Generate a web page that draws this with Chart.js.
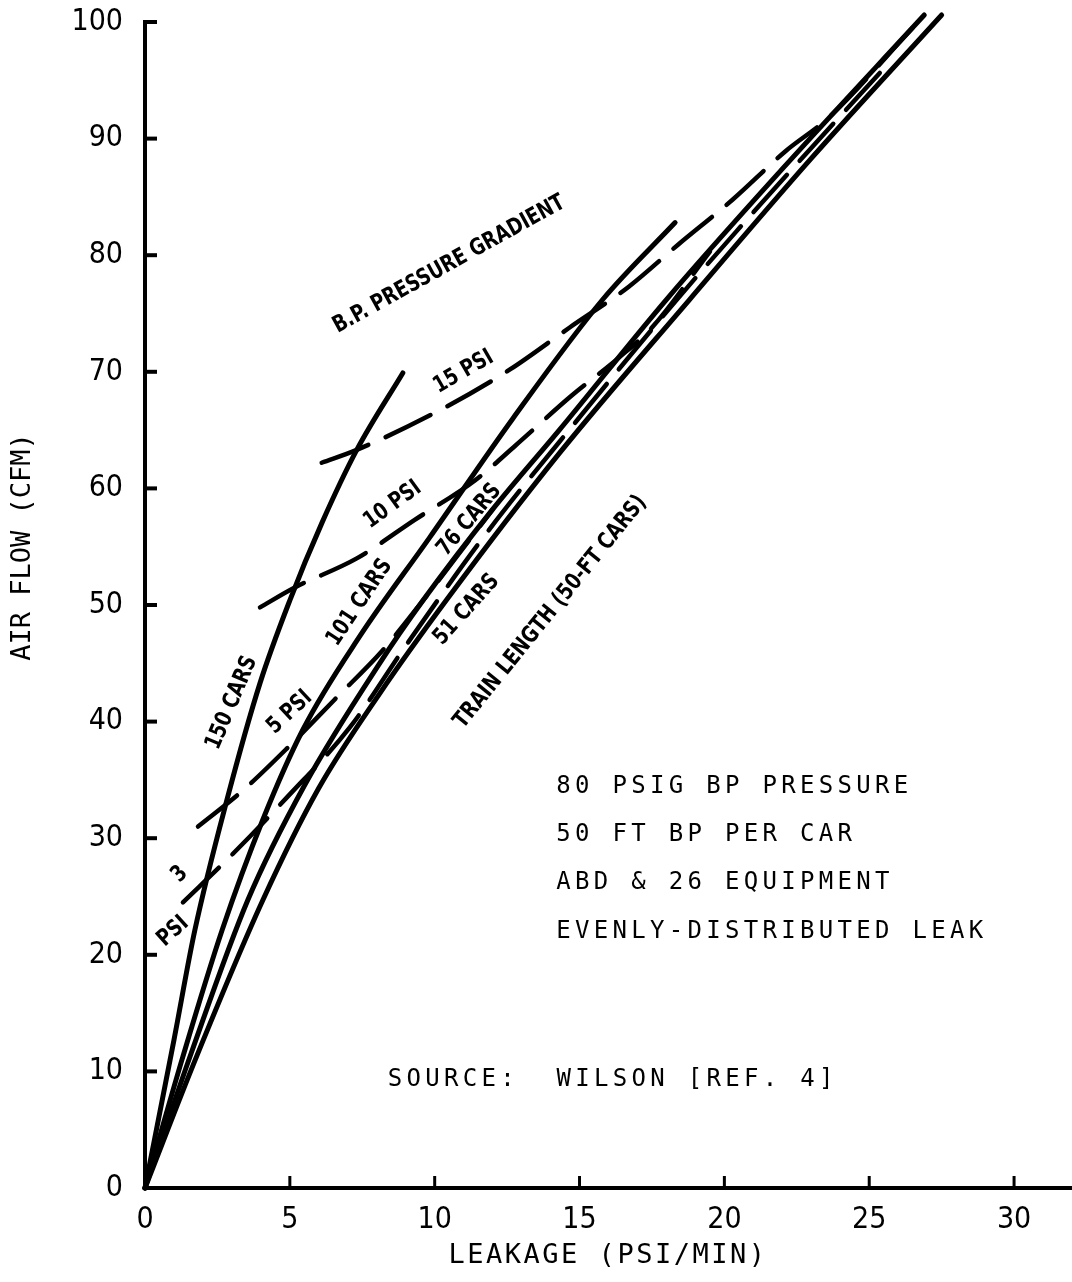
<!DOCTYPE html>
<html>
<head>
<meta charset="utf-8">
<script src="https://cdn.jsdelivr.net/npm/chart.js@4.4.1/dist/chart.umd.min.js"></script>
<style>
    html, body { margin: 0; padding: 0; background: #fff; }
    #wrap { width: 1072px; height: 1282px; position: relative; }
</style>
</head>
<body>
<div id="wrap"><canvas id="chart"></canvas></div>
<script>
// axis ticks
const xTicks = [0, 5, 10, 15, 20, 25, 30];
const yTicks = [0, 10, 20, 30, 40, 50, 60, 70, 80, 90, 100];

// train length curves (solid), leakage psi/min vs air flow cfm
const cars150X = [0, 1.0, 1.72, 2.83, 3.97, 5.0, 6.1, 7.31, 8.9];
const cars150Y = [0, 12.7, 22.1, 33.3, 43.3, 50.4, 57.0, 63.3, 69.9];
const cars101X = [0, 1.3, 2.66, 4.07, 5.45, 7.41, 9.83, 12.7, 15.8, 18.3];
const cars101Y = [0, 11.2, 22.1, 31.6, 39.3, 47.3, 55.8, 66.0, 76.2, 82.8];
const cars76X = [0, 1.6, 3.55, 5.5, 8.1, 9.6, 12.0, 14.3, 18.0, 22.0, 26.9];
const cars76Y = [0, 11.6, 24.7, 34.5, 45.0, 50.4, 58.2, 65.0, 76.2, 87.4, 100.6];
const cars51X = [0, 1.8, 4.07, 6.0, 8.1, 10.4, 14.3, 18.8, 23.0, 27.5];
const cars51Y = [0, 11.4, 24.7, 34.3, 42.4, 50.4, 63.0, 76.2, 88.3, 100.6];

// brake pipe pressure gradient curves (dashed)
const psi15X = [6.1, 7.31, 10.4, 12.6, 14.66, 16.7, 18.4, 20.3, 22.1, 23.6, 26.5];
const psi15Y = [62.2, 63.3, 67.0, 70.2, 73.8, 77.3, 80.9, 84.8, 88.9, 91.8, 99.5];
const psi10X = [3.97, 5.17, 7.31, 9.31, 11.4, 12.8, 14.7, 16.4, 17.5, 19.5];
const psi10Y = [49.8, 51.5, 54.0, 57.3, 60.7, 63.7, 67.9, 71.3, 73.8, 80.3];
const psi5X = [1.83, 3.38, 4.9, 6.55, 8.2, 9.6, 12.0];
const psi5Y = [31.0, 34.1, 37.7, 41.9, 46.1, 50.4, 58.2];
const psi3X = [1.31, 2.93, 4.9, 7.07, 9.0, 11.8, 15.0, 18.4, 20.4, 23.0, 25.5];
const psi3Y = [24.5, 28.4, 33.5, 39.5, 46.5, 56.2, 66.1, 76.3, 82.0, 89.2, 96.0];

const curveLabels = [
    { text: 'B.P. PRESSURE GRADIENT', x: 10.5, y: 79.2, angle: -29 },
    { text: '15 PSI', x: 11.0, y: 70.0, angle: -30 },
    { text: '10 PSI', x: 8.55, y: 58.6, angle: -36 },
    { text: '5 PSI', x: 5.0, y: 40.8, angle: -43 },
    { text: '3', x: 1.2, y: 26.9, angle: -45 },
    { text: 'PSI', x: 0.97, y: 22.0, angle: -42 },
    { text: '150 CARS', x: 3.0, y: 41.6, angle: -67 },
    { text: '101 CARS', x: 7.41, y: 50.2, angle: -56 },
    { text: '76 CARS', x: 11.2, y: 57.3, angle: -50 },
    { text: '51 CARS', x: 11.1, y: 49.6, angle: -48 },
    { text: 'TRAIN LENGTH (50-FT CARS)', x: 14.0, y: 49.4, angle: -51 }
];

const noteLines = ['80 PSIG BP PRESSURE', '50 FT BP PER CAR', 'ABD & 26 EQUIPMENT', 'EVENLY-DISTRIBUTED LEAK'];
const sourceNote = 'SOURCE:  WILSON [REF. 4]';

function pts(xs, ys) {
    return xs.map((v, i) => ({ x: v, y: ys[i] }));
}

function solid(xs, ys) {
    return {
        data: pts(xs, ys),
        showLine: true,
        borderColor: '#000',
        borderWidth: 5,
        borderCapStyle: 'round',
        pointRadius: 0,
        cubicInterpolationMode: 'monotone',
        clip: 14
    };
}

function dashed(xs, ys) {
    const d = solid(xs, ys);
    d.borderDash = [50, 19];
    d.borderWidth = 4.5;
    return d;
}

const extras = {
    id: 'extras',
    afterDatasetsDraw(chart) {
        const { ctx, scales: { x, y } } = chart;
        ctx.save();
        ctx.strokeStyle = '#000';
        ctx.fillStyle = '#000';
        ctx.lineCap = 'butt';
        // tick marks point into the plot
        ctx.lineWidth = 4;
        yTicks.forEach(v => {
            const py = y.getPixelForValue(v);
            ctx.beginPath(); ctx.moveTo(x.left, py); ctx.lineTo(x.left + 12, py); ctx.stroke();
        });
        ctx.lineWidth = 3;
        xTicks.forEach(v => {
            if (v === 0) return;
            const px = x.getPixelForValue(v);
            ctx.beginPath(); ctx.moveTo(px, y.bottom); ctx.lineTo(px, y.bottom - 12); ctx.stroke();
        });

        // labels along the curves
        ctx.font = 'bold 23px "DejaVu Sans Condensed", "DejaVu Sans", sans-serif';
        ctx.textAlign = 'center';
        ctx.textBaseline = 'middle';
        curveLabels.forEach(l => {
            ctx.save();
            ctx.translate(x.getPixelForValue(l.x), y.getPixelForValue(l.y));
            ctx.rotate(l.angle * Math.PI / 180);
            ctx.scale(0.88, 1);
            ctx.fillText(l.text, 0, 0);
            ctx.restore();
        });

        // conditions block
        ctx.font = '24px "DejaVu Sans Mono", monospace';
        ctx.letterSpacing = '4.3px';
        ctx.textAlign = 'left';
        noteLines.forEach((t, i) => {
            ctx.fillText(t, x.getPixelForValue(14.2), y.getPixelForValue(34.4 - i * 4.13));
        });
        ctx.fillText(sourceNote, x.getPixelForValue(8.38), y.getPixelForValue(9.3));

        // axis titles
        ctx.font = '27px "DejaVu Sans Mono", monospace';
        ctx.letterSpacing = '0px';
        ctx.textAlign = 'center';
        ctx.save();
        ctx.translate(23, 547);
        ctx.rotate(-Math.PI / 2);
        ctx.fillText('AIR FLOW (CFM)', 0, 0);
        ctx.restore();
        ctx.letterSpacing = '2.5px';
        ctx.fillText('LEAKAGE (PSI/MIN)', 608, 1256);
        ctx.restore();
    }
};

const tickFont = { family: '"DejaVu Sans Condensed", "DejaVu Sans", sans-serif', size: 30 };

new Chart(document.getElementById('chart'), {
    type: 'scatter',
    data: {
        datasets: [
            solid(cars150X, cars150Y),
            solid(cars101X, cars101Y),
            solid(cars76X, cars76Y),
            solid(cars51X, cars51Y),
            dashed(psi15X, psi15Y),
            dashed(psi10X, psi10Y),
            dashed(psi5X, psi5Y),
            dashed(psi3X, psi3Y)
        ]
    },
    options: {
        responsive: true,
        maintainAspectRatio: false,
        animation: false,
        layout: { padding: { top: 22, right: 0, left: 0, bottom: 0 } },
        plugins: { legend: { display: false }, tooltip: { enabled: false } },
        scales: {
            x: {
                type: 'linear',
                min: 0,
                max: 32,
                afterBuildTicks: s => { s.ticks = xTicks.map(v => ({ value: v })); },
                afterFit: s => { s.height = 94; s.paddingLeft = 0; s.paddingRight = 0; },
                grid: { display: false, drawTicks: false },
                border: { display: true, color: '#000', width: 4 },
                ticks: { color: '#000', font: tickFont, padding: 14, autoSkip: false, maxRotation: 0 }
            },
            y: {
                type: 'linear',
                min: 0,
                max: 100,
                afterBuildTicks: s => { s.ticks = yTicks.map(v => ({ value: v })); },
                afterFit: s => { s.width = 145; s.paddingTop = 0; s.paddingBottom = 0; },
                grid: { display: false, drawTicks: false },
                border: { display: true, color: '#000', width: 4 },
                ticks: { color: '#000', font: tickFont, padding: 22, autoSkip: false }
            }
        }
    },
    plugins: [extras]
});
</script>
</body>
</html>
